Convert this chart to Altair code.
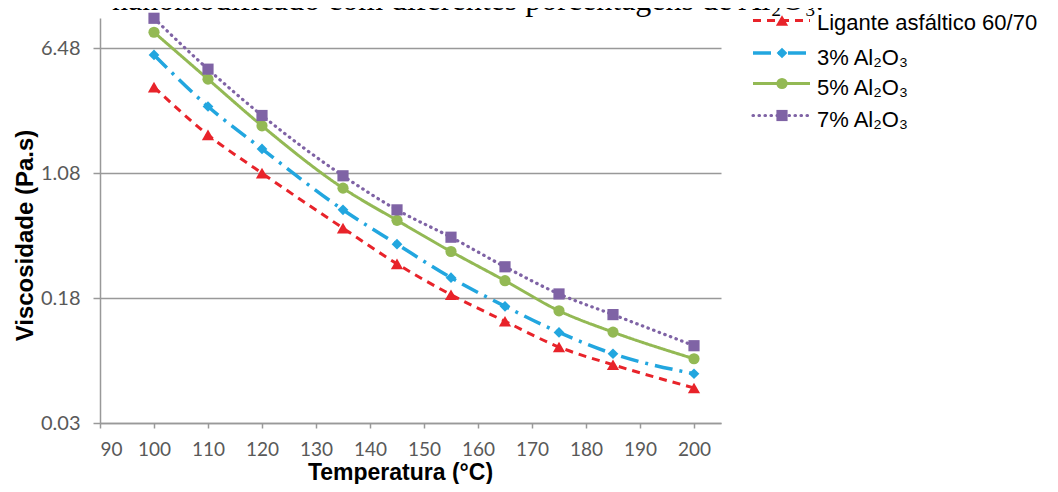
import altair as alt
import pandas as pd

# ---- data ----
temps = [100, 110, 120, 135, 145, 155, 165, 175, 185, 200]
ligante = [3.71, 1.87, 1.08, 0.491, 0.294, 0.189, 0.129, 0.0892, 0.0692, 0.0496]
al3 = [5.89, 2.81, 1.53, 0.638, 0.390, 0.241, 0.160, 0.110, 0.0810, 0.0608]
al5 = [8.15, 4.16, 2.13, 0.871, 0.549, 0.351, 0.231, 0.150, 0.1105, 0.0754]
al7 = [9.96, 4.80, 2.47, 1.04, 0.638, 0.431, 0.282, 0.191, 0.142, 0.0909]
series_names = ["Ligante asfáltico 60/70", "3% Al₂O₃", "5% Al₂O₃", "7% Al₂O₃"]
x_ticks = [90, 100, 110, 120, 130, 140, 150, 160, 170, 180, 190, 200]
y_ticks = [0.03, 0.18, 1.08, 6.48]
title_text = "nanomodificado com diferentes porcentagens de Al₂O₃."

# ---- styles ----
colors = ["#E8232A", "#22A6DF", "#93B954", "#7F63A5"]
dashes = [[8, 6], [18, 7, 3, 7], [1, 0], [0.5, 5.5]]
caps = ["butt", "butt", "butt", "round"]
shapes = ["triangle-up", "diamond", "circle", "square"]
msizes = [150, 115, 125, 125]
widths = [3, 3.5, 3, 3.2]

W, H = 621, 405

xscale = alt.Scale(domain=[90, 205], nice=False, zero=False)
yscale = alt.Scale(type="log", domain=[0.03, 10], nice=False)

xaxis = alt.Axis(values=x_ticks, title="Temperatura (°C)", grid=False,
                 tickSize=5, labelPadding=12, labelFontSize=19,
                 titleFontSize=23, titleX=300, titleY=56,
                 titleBaseline="alphabetic")
yaxis = alt.Axis(values=y_ticks, format=".2f", title="Viscosidade (Pa.s)",
                 grid=True, tickSize=7, labelPadding=13, labelFontSize=20,
                 titleFontSize=24, titleX=-68, titleY=217,
                 titleBaseline="alphabetic", titleAlign="center", titleAngle=270)

values = [ligante, al3, al5, al7]
layers = []
for i, name in enumerate(series_names):
    df = pd.DataFrame({"T": temps, "V": values[i], "serie": name})
    base = alt.Chart(df).encode(
        x=alt.X("T:Q", scale=xscale, axis=xaxis),
        y=alt.Y("V:Q", scale=yscale, axis=yaxis),
    )
    line = base.mark_line(color=colors[i], strokeDash=dashes[i], strokeWidth=widths[i],
                          strokeCap=caps[i], interpolate="monotone")
    pts = base.mark_point(shape=shapes[i], filled=True, color=colors[i], size=msizes[i], opacity=1)
    layers += [line, pts]

# ---- legend (manual, on the right) ----
leg_line_y = [2.5, 35, 65.5, 97.5]
leg_text_y = [11.5, 47, 77, 108.5]
for i, name in enumerate(series_names):
    ldf = pd.DataFrame({"label": [name]})
    lb = alt.Chart(ldf)
    layers.append(lb.mark_rule(color=colors[i], strokeDash=dashes[i], strokeWidth=widths[i],
                               strokeCap=caps[i]).encode(
        x=alt.value(653), x2=alt.value(710), y=alt.value(leg_line_y[i])))
    layers.append(lb.mark_point(shape=shapes[i], filled=True, color=colors[i],
                                size=msizes[i], opacity=1).encode(
        x=alt.value(682), y=alt.value(leg_line_y[i])))
    layers.append(lb.mark_text(align="left", baseline="alphabetic", font="Liberation Sans",
                               fontSize=22, color="#000000").encode(
        x=alt.value(717), y=alt.value(leg_text_y[i]), text="label:N"))

# ---- title (cut at the top like the reference) ----
tdf = pd.DataFrame({"t": [title_text]})
layers.append(alt.Chart(tdf).mark_text(align="left", baseline="alphabetic",
                                       font="Liberation Serif", fontSize=32,
                                       color="#000000").encode(
    x=alt.value(12), y=alt.value(-8), text="t:N"))

chart = alt.layer(*layers).properties(
    width=W, height=H,
    autosize=alt.AutoSizeParams(type="none"),
    padding={"left": 92, "top": 10, "right": 329, "bottom": 61},
    background="white",
).configure_view(stroke=None).configure_axis(
    domainColor="#999999", domainWidth=1.5, tickColor="#999999", tickWidth=1.5,
    gridColor="#999999", gridWidth=1.5,
    labelFont="Lato", labelColor="#595959",
    titleFont="Liberation Sans", titleFontWeight="bold", titleColor="#000000",
)

chart.save("out.html", embed_options={"renderer": "svg", "actions": False})
